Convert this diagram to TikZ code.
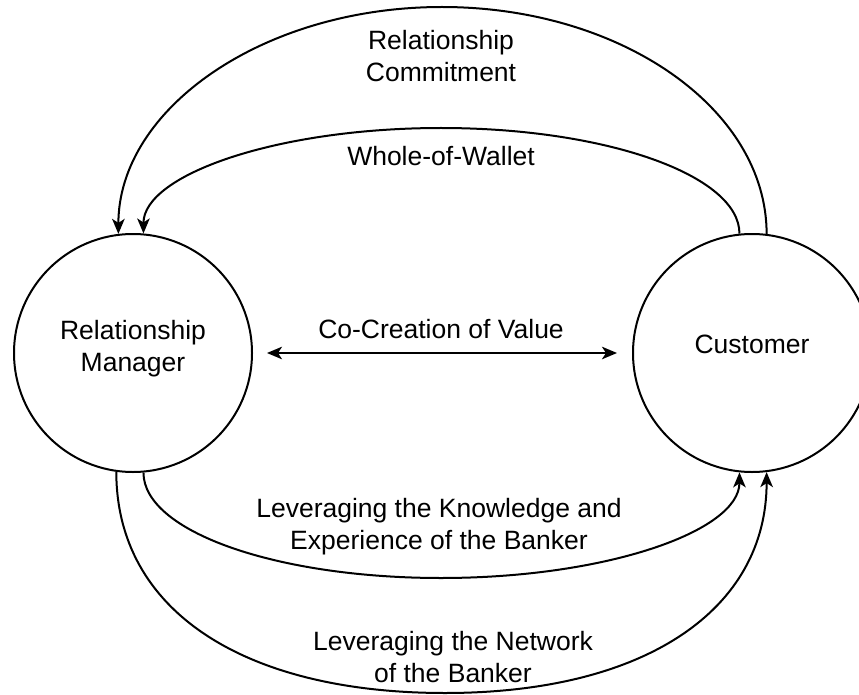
\documentclass[tikz,border=0pt]{standalone}
\usepackage{fontspec}
\setmainfont{Liberation Sans}
\usetikzlibrary{arrows.meta}
\begin{document}
\begin{tikzpicture}[x=1pt,y=-1pt,
  line width=2pt,
  >={Stealth[length=15pt,width=12.5pt,inset=4pt]},
  party/.style={circle,draw,minimum size=238pt,inner sep=0pt,align=center,font=\fontsize{26.5}{32}\selectfont},
  lbl/.style={align=center,inner sep=0pt,font=\fontsize{26.5}{32}\selectfont,text height=19pt,text depth=6pt},
  lbltwo/.style={lbl,text height=51pt},
  flow/.style={draw,->}]
\useasboundingbox (0,0) rectangle (859,695);
\node[party,text height=51pt,text depth=15pt] (rm) at (133,353) {Relationship\\Manager};
\node[party,text height=19pt,text depth=19pt] (cu) at (752,353) {Customer};

\node[lbltwo] (lrc) at (441,59.5) {Relationship\\Commitment};
\node[lbl] (lww) at (441,159.5) {Whole-of-Wallet};
\node[lbl] (lcc) at (441,331.5) {Co-Creation of Value};
\node[lbltwo] (lkn) at (439,526.5) {Leveraging the Knowledge and\\Experience of the Banker};
\node[lbltwo] (lnw) at (453,659.5) {Leveraging the Network\\of the Banker};

\coordinate (topO) at (442,7);
\coordinate (topI) at (441,128);
\coordinate (botI) at (441,578);
\coordinate (botO) at (445,693);

\draw[flow] (cu.83) .. controls +(0,-125) and +(179,0) .. (topO) .. controls +(-179,0) and +(0,-125) .. (rm.97);
\draw[flow] (cu.96) .. controls +(0,-58.5) and +(164.5,0) .. (topI) .. controls +(-164.5,0) and +(0,-58.5) .. (rm.85);
\draw[flow] (rm.275) .. controls +(0,59) and +(-164.5,0) .. (botI) .. controls +(164.5,0) and +(0,59) .. (cu.264);
\draw[flow] (rm.262) .. controls +(0,139) and +(-201,0) .. (botO) .. controls +(201,0) and +(0,137) .. (cu.277);
\draw[<->,shorten <=14pt,shorten >=15pt] (rm) -- (cu);
\end{tikzpicture}
\end{document}
